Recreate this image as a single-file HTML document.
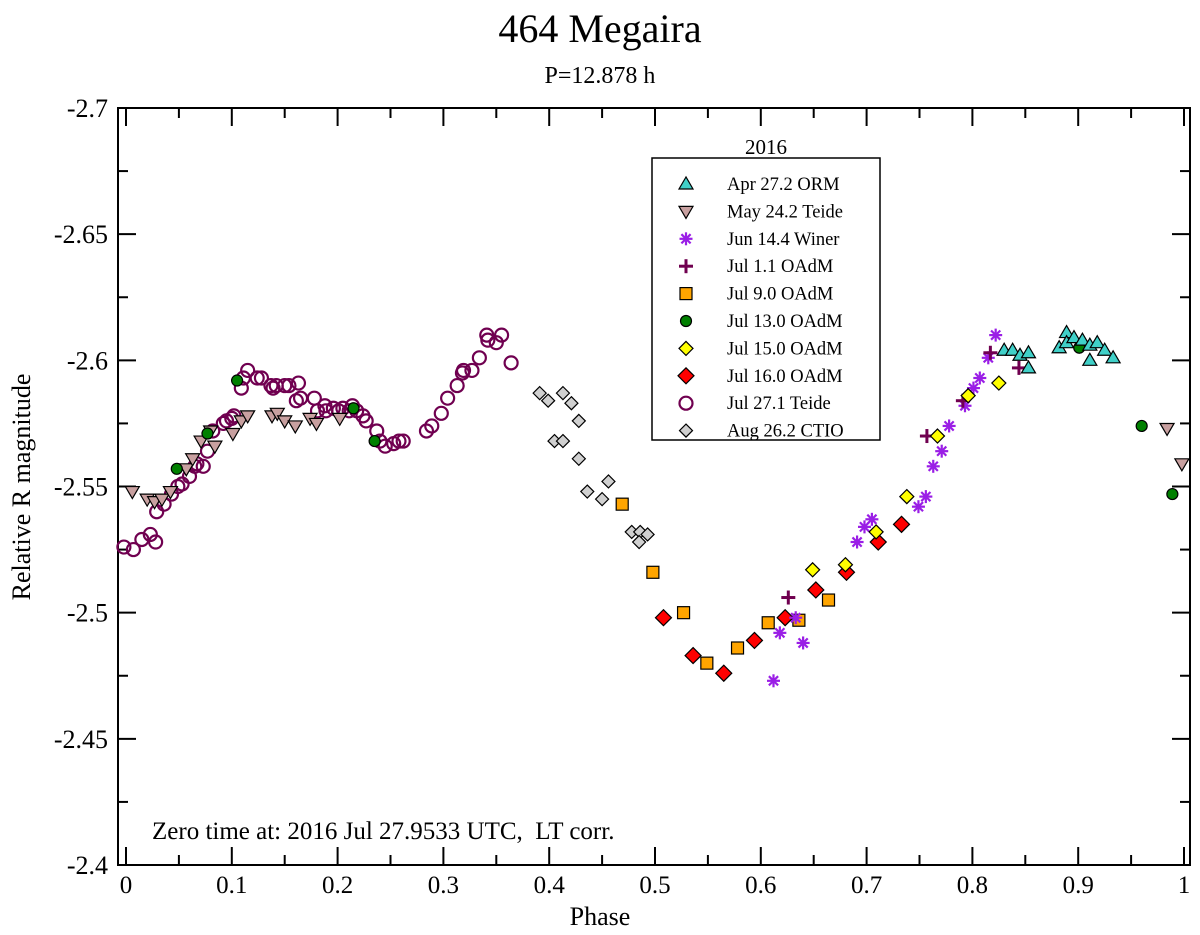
<!DOCTYPE html>
<html><head><meta charset="utf-8"><style>
body{margin:0;background:#fff}
svg{display:block;font-family:"Liberation Serif",serif}
</style></head><body>
<svg id="c" width="1200" height="935" xmlns="http://www.w3.org/2000/svg">
<text x="600" y="42" text-anchor="middle" font-size="40">464 Megaira</text>
<text x="600" y="83" text-anchor="middle" font-size="24">P=12.878 h</text>
<text x="600" y="925" text-anchor="middle" font-size="26">Phase</text>
<text transform="translate(30,487) rotate(-90)" text-anchor="middle" font-size="26">Relative R magnitude</text>
<text x="152" y="839" font-size="25" xml:space="preserve" style="white-space:pre">Zero time at: 2016 Jul 27.9533 UTC,  LT corr.</text>
<g id="axes"></g><g id="marks"></g><g id="legend"></g>
</svg>
<script>
const xTicks=[0,0.1,0.2,0.3,0.4,0.5,0.6,0.7,0.8,0.9,1];
const xTickLabels=["0","0.1","0.2","0.3","0.4","0.5","0.6","0.7","0.8","0.9","1"];
const yTicks=[-2.7,-2.65,-2.6,-2.55,-2.5,-2.45,-2.4];
const yTickLabels=["-2.7","-2.65","-2.6","-2.55","-2.5","-2.45","-2.4"];
const seriesNames=["Apr 27.2 ORM","May 24.2 Teide","Jun 14.4 Winer","Jul 1.1 OAdM","Jul 9.0 OAdM","Jul 13.0 OAdM","Jul 15.0 OAdM","Jul 16.0 OAdM","Jul 27.1 Teide","Aug 26.2 CTIO"];
const aprPhase=[.830,.838,.845,.853,.853,.882,.889,.889,.896,.904,.911,.911,.918,.925,.933];
const aprMag=[-2.604,-2.604,-2.602,-2.603,-2.597,-2.605,-2.611,-2.607,-2.609,-2.608,-2.606,-2.600,-2.607,-2.604,-2.601];
const mayPhase=[.006,.020,.027,.034,.042,.057,.063,.071,.080,.084,.101,.109,.115,.138,.143,.150,.160,.174,.180,.202,.984,.998];
const mayMag=[-2.548,-2.545,-2.544,-2.545,-2.548,-2.557,-2.561,-2.568,-2.572,-2.566,-2.571,-2.576,-2.578,-2.578,-2.579,-2.576,-2.574,-2.577,-2.575,-2.577,-2.573,-2.559];
const junPhase=[.612,.618,.633,.640,.691,.698,.705,.749,.756,.763,.771,.778,.793,.801,.807,.815,.822];
const junMag=[-2.473,-2.492,-2.498,-2.488,-2.528,-2.534,-2.537,-2.542,-2.546,-2.558,-2.564,-2.574,-2.582,-2.589,-2.593,-2.601,-2.610];
const jul1Phase=[.626,.757,.791,.817,.844];
const jul1Mag=[-2.506,-2.570,-2.584,-2.603,-2.597];
const jul9Phase=[.469,.498,.527,.549,.578,.607,.636,.664];
const jul9Mag=[-2.543,-2.516,-2.500,-2.480,-2.486,-2.496,-2.497,-2.505];
const jul13Phase=[.048,.077,.105,.215,.235,.901,.960,.989];
const jul13Mag=[-2.557,-2.571,-2.592,-2.581,-2.568,-2.605,-2.574,-2.547];
const jul15Phase=[.649,.680,.709,.738,.767,.796,.825];
const jul15Mag=[-2.517,-2.519,-2.532,-2.546,-2.570,-2.586,-2.591];
const jul16Phase=[.508,.536,.565,.594,.623,.652,.681,.711,.733];
const jul16Mag=[-2.498,-2.483,-2.476,-2.489,-2.498,-2.509,-2.516,-2.528,-2.535];
const jul27Phase=[-.002,.007,.015,.023,.028,.029,.036,.043,.049,.053,.060,.065,.067,.073,.077,.082,.092,.095,.100,.102,.109,.111,.115,.124,.128,.137,.139,.142,.150,.154,.163,.161,.165,.178,.181,.188,.189,.196,.201,.205,.211,.214,.218,.224,.227,.237,.240,.245,.253,.258,.262,.284,.289,.298,.304,.313,.318,.319,.327,.334,.341,.342,.350,.355,.364];
const jul27Mag=[-2.526,-2.525,-2.529,-2.531,-2.528,-2.540,-2.543,-2.547,-2.550,-2.551,-2.554,-2.558,-2.559,-2.558,-2.564,-2.572,-2.575,-2.576,-2.577,-2.578,-2.589,-2.593,-2.596,-2.593,-2.593,-2.590,-2.589,-2.590,-2.590,-2.590,-2.591,-2.584,-2.585,-2.585,-2.580,-2.582,-2.580,-2.581,-2.580,-2.581,-2.580,-2.582,-2.580,-2.578,-2.576,-2.572,-2.568,-2.566,-2.567,-2.568,-2.568,-2.572,-2.574,-2.579,-2.585,-2.590,-2.595,-2.596,-2.596,-2.601,-2.610,-2.608,-2.607,-2.610,-2.599];
const augPhase=[.391,.399,.413,.421,.428,.405,.413,.428,.456,.436,.450,.478,.486,.493,.485];
const augMag=[-2.587,-2.584,-2.587,-2.583,-2.576,-2.568,-2.568,-2.561,-2.552,-2.548,-2.545,-2.532,-2.532,-2.531,-2.528];

const NS="http://www.w3.org/2000/svg";
const L=118,R=1190,T=108,B=865;
const X0=126,X1=1184;
function xs(v){return X0+(v-0)*(X1-X0);}
function ys(v){return T+(v-(-2.7))/0.3*(B-T);}
function mk(tag,attrs,parent){const e=document.createElementNS(NS,tag);for(const k in attrs)e.setAttribute(k,attrs[k]);parent.appendChild(e);return e;}
const axes=document.getElementById('axes'),marks=document.getElementById('marks'),leg=document.getElementById('legend');
const frame=mk('rect',{x:L,y:T,width:R-L,height:B-T,fill:'none',stroke:'#000','stroke-width':2},axes);


xTicks.forEach((t,i)=>{const x=xs(t);
 mk('line',{x1:x,x2:x,y1:B,y2:B-18,stroke:'#000','stroke-width':2},axes);
 mk('line',{x1:x,x2:x,y1:T,y2:T+18,stroke:'#000','stroke-width':2},axes);
 if(i<xTicks.length-1){const xm=xs(t+0.05);
  mk('line',{x1:xm,x2:xm,y1:B,y2:B-10,stroke:'#000','stroke-width':2},axes);
  mk('line',{x1:xm,x2:xm,y1:T,y2:T+10,stroke:'#000','stroke-width':2},axes);}
 const tx=mk('text',{x:x,y:893,'text-anchor':'middle','font-size':25},axes);tx.textContent=xTickLabels[i];
 
 
});
yTicks.forEach((t,i)=>{const y=ys(t);
 mk('line',{x1:L,x2:L+18,y1:y,y2:y,stroke:'#000','stroke-width':2},axes);
 mk('line',{x1:R,x2:R-18,y1:y,y2:y,stroke:'#000','stroke-width':2},axes);
 if(i<yTicks.length-1){const ym=ys(t+0.025);
  mk('line',{x1:L,x2:L+10,y1:ym,y2:ym,stroke:'#000','stroke-width':2},axes);
  mk('line',{x1:R,x2:R-10,y1:ym,y2:ym,stroke:'#000','stroke-width':2},axes);}
 const tx=mk('text',{x:108,y:y+9,'text-anchor':'end','font-size':26},axes);tx.textContent=yTickLabels[i];
 
 
});
function sym(type,x,y,p){let e;
 switch(type){
 case 'tri':e=mk('polygon',{points:`${x},${y-7} ${x-7},${y+5} ${x+7},${y+5}`,fill:'#40d0c8',stroke:'#000','stroke-width':1.2},p);break;
 case 'dtri':e=mk('polygon',{points:`${x},${y+7} ${x-7},${y-5} ${x+7},${y-5}`,fill:'#c8a0a0',stroke:'#000','stroke-width':1.2},p);break;
 case 'star':{e=mk('g',{stroke:'#9a1ee6','stroke-width':2.2},p);for(let a=0;a<4;a++){const an=a*Math.PI/4,dx=6.5*Math.cos(an),dy=6.5*Math.sin(an);mk('line',{x1:x-dx,y1:y-dy,x2:x+dx,y2:y+dy},e);}break;}
 case 'plus':{e=mk('g',{stroke:'#700050','stroke-width':3},p);mk('line',{x1:x-7,x2:x+7,y1:y,y2:y},e);mk('line',{x1:x,x2:x,y1:y-7,y2:y+7},e);break;}
 case 'sq':e=mk('rect',{x:x-6,y:y-6,width:12,height:12,fill:'#ffa500',stroke:'#000','stroke-width':1.2},p);break;
 case 'gc':e=mk('circle',{cx:x,cy:y,r:5.5,fill:'#008000',stroke:'#000','stroke-width':1.2},p);break;
 case 'yd':e=mk('polygon',{points:`${x},${y-7} ${x+7},${y} ${x},${y+7} ${x-7},${y}`,fill:'#ffff00',stroke:'#000','stroke-width':1.2},p);break;
 case 'rd':e=mk('polygon',{points:`${x},${y-8} ${x+8},${y} ${x},${y+8} ${x-8},${y}`,fill:'#ff0000',stroke:'#000','stroke-width':1.2},p);break;
 case 'oc':e=mk('circle',{cx:x,cy:y,r:6.5,fill:'none',stroke:'#700050','stroke-width':2.2},p);break;
 case 'gd':e=mk('polygon',{points:`${x},${y-6.5} ${x+6.5},${y} ${x},${y+6.5} ${x-6.5},${y}`,fill:'#d0d0d0',stroke:'#000','stroke-width':1.2},p);break;
 }return e;}
const series=[['tri',aprPhase,aprMag],['dtri',mayPhase,mayMag],['star',junPhase,junMag],['plus',jul1Phase,jul1Mag],['sq',jul9Phase,jul9Mag],['gc',jul13Phase,jul13Mag],['yd',jul15Phase,jul15Mag],['rd',jul16Phase,jul16Mag],['oc',jul27Phase,jul27Mag],['gd',augPhase,augMag]];
const drawOrder=[8,1,5,9,4,7,2,3,6,0];
drawOrder.forEach(si=>{const [t,ph,mg]=series[si];
 const g=mk('g',{},marks);
 
 
 ph.forEach((p,i)=>{const e=sym(t,xs(p),ys(mg[i]),g);
  
  });
});
const lb=mk('rect',{x:652,y:158,width:228,height:282,fill:'#fff',stroke:'#000','stroke-width':1.5},leg);


const lt=mk('text',{x:766,y:154,'text-anchor':'middle','font-size':21},leg);lt.textContent='2016';


seriesNames.forEach((n,i)=>{const y=184+i*27.4;
 const g=mk('g',{},leg);
 
 
 sym(series[i][0],686,y,g);
 const tx=mk('text',{x:727,y:y+6,'font-size':18.5},g);tx.textContent=n;});
</script>
</body></html>
